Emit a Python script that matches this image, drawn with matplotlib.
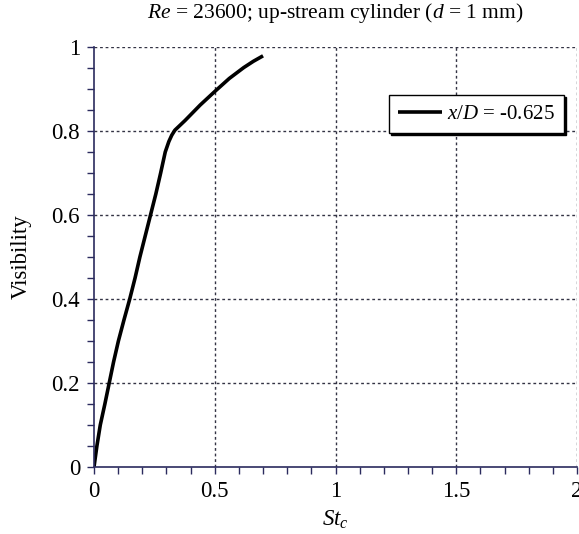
import matplotlib
matplotlib.use("Agg")
import matplotlib.pyplot as plt
from matplotlib.ticker import MultipleLocator

st_c = [0.0, 0.012, 0.026, 0.045, 0.063, 0.081, 0.101, 0.124, 0.148, 0.170, 0.190,
        0.212, 0.234, 0.256, 0.276, 0.295, 0.310, 0.322, 0.335, 0.377, 0.44, 0.50,
        0.56, 0.62, 0.66, 0.70]
visibility = [0.0, 0.05, 0.10, 0.15, 0.20, 0.25, 0.30, 0.35, 0.40, 0.45, 0.50,
              0.55, 0.60, 0.65, 0.70, 0.75, 0.775, 0.79, 0.802, 0.825, 0.862, 0.894,
              0.925, 0.951, 0.966, 0.979]
series_label = "$x/D$ = -0.625"
title = "$Re$ = 23600; up-stream cylinder ($d$ = 1 mm)"
x_ticks = [0, 0.5, 1, 1.5, 2]
x_tick_labels = ["0", "0.5", "1", "1.5", "2"]
y_ticks = [0, 0.2, 0.4, 0.6, 0.8, 1]
y_tick_labels = ["0", "0.2", "0.4", "0.6", "0.8", "1"]

plt.rcParams['font.family'] = ['Liberation Serif', 'DejaVu Serif']
plt.rcParams['mathtext.fontset'] = 'custom'
plt.rcParams['mathtext.it'] = 'Liberation Serif:italic'
plt.rcParams['mathtext.rm'] = 'Liberation Serif'

fig = plt.figure(figsize=(5.79, 5.34), dpi=100)
ax = fig.add_axes([94/579, 1-467/534, 483/579, 420/534])

axis_color = '#2b2b5e'
ax.plot(st_c, visibility, color='black', lw=2.6, solid_capstyle='butt',
        solid_joinstyle='round', label=series_label)

ax.set_xlim(0, 2)
ax.set_ylim(0, 1)
ax.set_xticks(x_ticks)
ax.set_xticklabels(x_tick_labels)
ax.set_yticks(y_ticks)
ax.set_yticklabels(y_tick_labels)
ax.xaxis.set_minor_locator(MultipleLocator(0.1))
ax.yaxis.set_minor_locator(MultipleLocator(0.05))
ax.tick_params(which='both', direction='out', length=5, width=1, color=axis_color,
               labelsize=16.5, pad=5)
for s in ['top', 'right']:
    ax.spines[s].set_visible(False)
for s in ['left', 'bottom']:
    ax.spines[s].set_color(axis_color)
    ax.spines[s].set_linewidth(1.2)

for xv in x_ticks[1:]:
    ax.axvline(xv, color='#333344', lw=1.0, ls=(0, (2, 2)), zorder=0)
for yv in y_ticks[1:]:
    ax.axhline(yv, color='#333344', lw=1.0, ls=(0, (2, 2)), zorder=0)

ax.set_xlabel("$St_c$", fontsize=16.5, labelpad=5)
ax.set_ylabel("Visibility", fontsize=16.5, labelpad=14)
ax.set_title(title, fontsize=15.5, pad=21)

leg = ax.legend(loc='upper right', bbox_to_anchor=(470/483, 1-(95-47)/420),
                fontsize=15, frameon=True, fancybox=False,
                shadow={'color': 'black', 'alpha': 1, 'ox': 1.5, 'oy': -1.5},
                handlelength=2.1, handletextpad=0.25, borderpad=0.45, borderaxespad=0)
leg.get_frame().set_edgecolor('black')
leg.get_frame().set_linewidth(1.0)

fig.savefig("out.png", dpi=100)
